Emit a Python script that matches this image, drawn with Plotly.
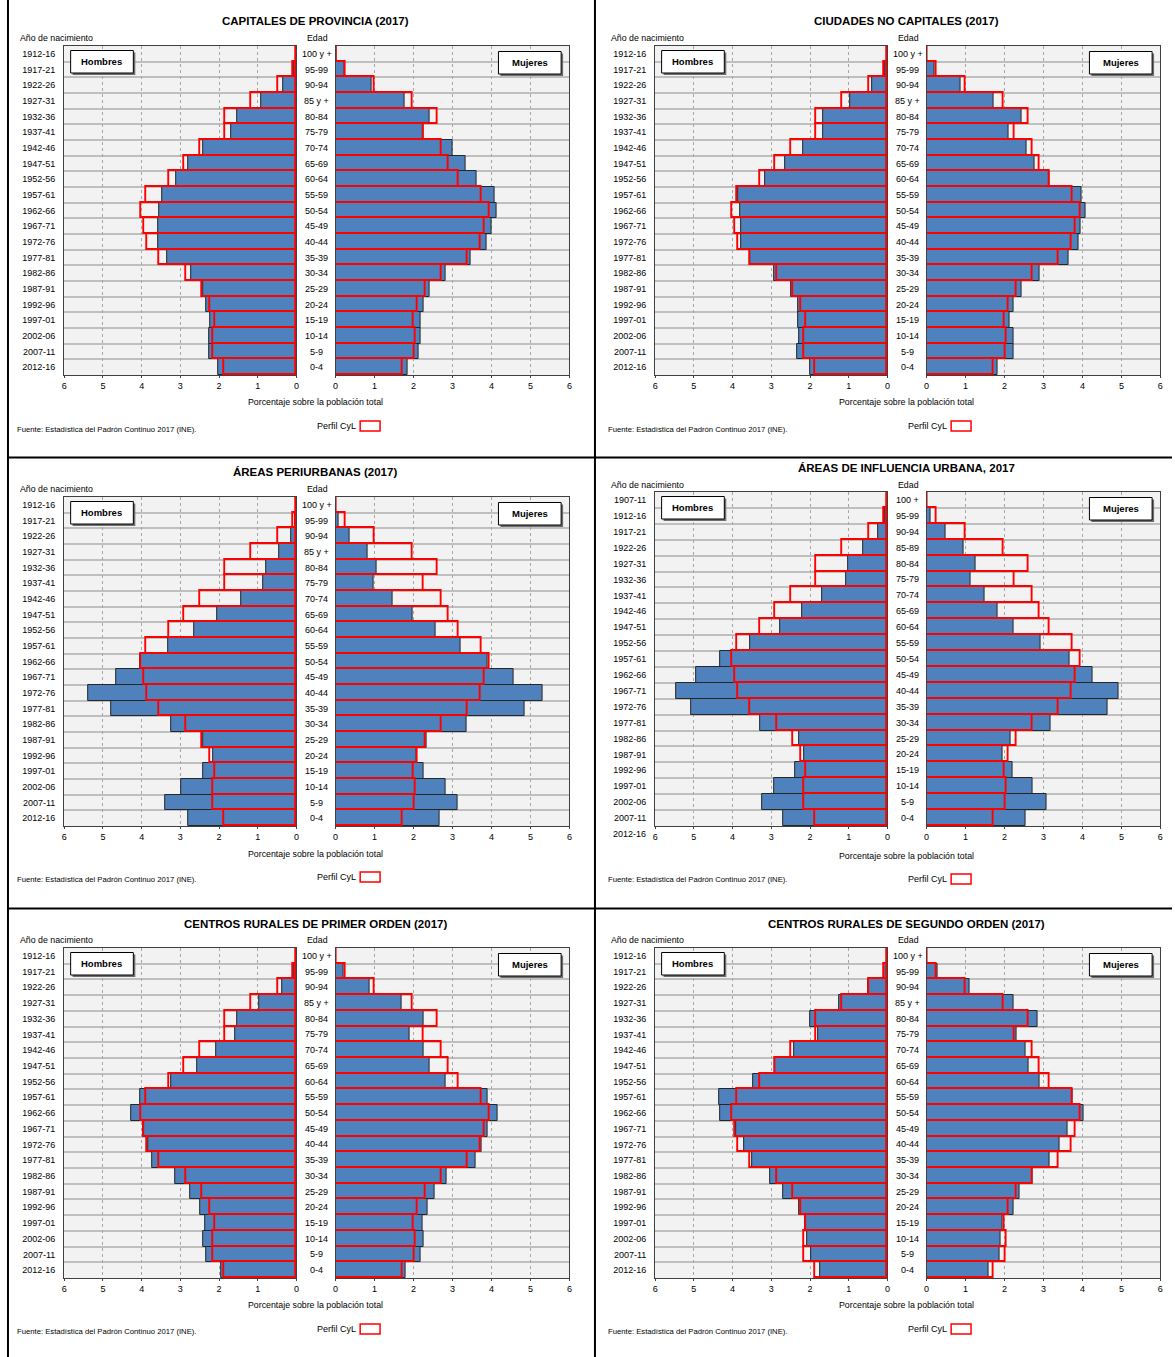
import plotly.graph_objects as go

FIG_W, FIG_H = 1175, 1357
FONT = "Liberation Sans, Arial, sans-serif"
BLUE = "#4F81BD"
RED = "#FF0000"

# ---------------------------------------------------------------- categories
cohortes = ["1912-16", "1917-21", "1922-26", "1927-31", "1932-36", "1937-41",
            "1942-46", "1947-51", "1952-56", "1957-61", "1962-66", "1967-71",
            "1972-76", "1977-81", "1982-86", "1987-91", "1992-96", "1997-01",
            "2002-06", "2007-11", "2012-16"]
cohortes_aiu = ["1907-11", "1912-16", "1917-21", "1922-26", "1927-31", "1932-36",
                "1937-41", "1942-46", "1947-51", "1952-56", "1957-61", "1962-66",
                "1967-71", "1972-76", "1977-81", "1982-86", "1987-91", "1992-96",
                "1997-01", "2002-06", "2007-11", "2012-16"]
edades = ["100 y +", "95-99", "90-94", "85 y +", "80-84", "75-79", "70-74",
          "65-69", "60-64", "55-59", "50-54", "45-49", "40-44", "35-39",
          "30-34", "25-29", "20-24", "15-19", "10-14", "5-9", "0-4"]
edades_aiu = ["100 +", "95-99", "90-94", "85-89", "80-84", "75-79", "70-74",
              "65-69", "60-64", "55-59", "50-54", "45-49", "40-44", "35-39",
              "30-34", "25-29", "20-24", "15-19", "10-14", "5-9", "0-4"]

# ------------------------------------- % of total population, oldest group first
cyl_hombres = [0.02, 0.08, 0.47, 1.16, 1.85, 1.85, 2.48, 2.89, 3.30, 3.88, 4.01,
               3.93, 3.85, 3.54, 2.85, 2.44, 2.23, 2.11, 2.16, 2.16, 1.86]
cyl_mujeres = [0.03, 0.26, 1.01, 1.97, 2.61, 2.27, 2.73, 2.91, 3.15, 3.74, 3.96,
               3.83, 3.72, 3.39, 2.73, 2.31, 2.11, 1.99, 2.05, 2.04, 1.73]

capitales_hombres = [0.02, 0.06, 0.35, 0.91, 1.52, 1.68, 2.40, 2.79, 3.10, 3.47, 3.55,
                     3.57, 3.57, 3.33, 2.71, 2.40, 2.32, 2.24, 2.26, 2.26, 2.01]
capitales_mujeres = [0.02, 0.24, 0.92, 1.76, 2.40, 2.26, 2.99, 3.34, 3.63, 4.09, 4.14,
                     4.01, 3.88, 3.47, 2.82, 2.40, 2.25, 2.17, 2.17, 2.14, 1.86]

ciudades_hombres = [0.02, 0.05, 0.39, 0.96, 1.65, 1.65, 2.19, 2.63, 3.17, 3.85, 3.80,
                    3.78, 3.79, 3.55, 2.92, 2.49, 2.30, 2.31, 2.29, 2.32, 2.00]
ciudades_mujeres = [0.01, 0.21, 0.87, 1.72, 2.44, 2.11, 2.56, 2.77, 3.16, 3.99, 4.09,
                    3.96, 3.90, 3.65, 2.91, 2.45, 2.24, 2.14, 2.23, 2.23, 1.83]

periurbanas_hombres = [0.01, 0.03, 0.14, 0.44, 0.78, 0.86, 1.44, 2.04, 2.65, 3.32, 4.04,
                       4.66, 5.38, 4.78, 3.23, 2.41, 2.14, 2.41, 2.97, 3.40, 2.80]
periurbanas_mujeres = [0.01, 0.08, 0.37, 0.82, 1.05, 0.97, 1.46, 1.98, 2.56, 3.22, 3.91,
                       4.58, 5.31, 4.85, 3.35, 2.33, 2.07, 2.26, 2.81, 3.14, 2.67]

influencia_hombres = [0.01, 0.06, 0.25, 0.62, 1.01, 1.07, 1.68, 2.21, 2.78, 3.55, 4.33,
                      4.93, 5.46, 5.06, 3.30, 2.27, 2.14, 2.38, 2.92, 3.24, 2.70]
influencia_mujeres = [0.01, 0.11, 0.49, 0.95, 1.25, 1.13, 1.49, 1.82, 2.23, 2.92, 3.68,
                      4.27, 4.93, 4.65, 3.17, 2.15, 1.95, 2.21, 2.71, 3.07, 2.53]

rurales1_hombres = [0.01, 0.05, 0.37, 0.97, 1.52, 1.58, 2.07, 2.56, 3.24, 4.04, 4.26,
                    3.95, 3.84, 3.72, 3.14, 2.75, 2.48, 2.37, 2.41, 2.33, 1.95]
rurales1_mujeres = [0.01, 0.20, 0.86, 1.69, 2.27, 1.90, 2.27, 2.40, 2.83, 3.89, 4.17,
                    3.89, 3.74, 3.58, 2.86, 2.55, 2.35, 2.22, 2.27, 2.18, 1.79]

rurales2_hombres = [0.01, 0.09, 0.51, 1.25, 2.00, 1.80, 2.42, 2.90, 3.48, 4.34, 4.33,
                    3.92, 3.71, 3.49, 3.03, 2.69, 2.29, 2.12, 2.07, 1.98, 1.73]
rurales2_mujeres = [0.01, 0.27, 1.10, 2.23, 2.84, 2.32, 2.53, 2.61, 2.89, 3.75, 4.02,
                    3.61, 3.42, 3.15, 2.72, 2.39, 2.23, 1.96, 1.89, 1.88, 1.58]

x_ticks = [0, 1, 2, 3, 4, 5, 6]

# ------------------------------------------------------------- panel layout (px)
panels = [
    dict(title="CAPITALES DE PROVINCIA (2017)", men=capitales_hombres, women=capitales_mujeres,
         cohorts=cohortes, ages=edades, dx=0, top=46, bottom=375,
         title_y=21, head_y=38, xtitle_y=402, src_y=429, leg_y=426),
    dict(title="CIUDADES NO CAPITALES (2017)", men=ciudades_hombres, women=ciudades_mujeres,
         cohorts=cohortes, ages=edades, dx=594, top=46, bottom=375,
         title_y=21, head_y=38, xtitle_y=402, src_y=429, leg_y=426),
    dict(title="ÁREAS PERIURBANAS (2017)", men=periurbanas_hombres, women=periurbanas_mujeres,
         cohorts=cohortes, ages=edades, dx=0, top=497, bottom=826,
         title_y=472, head_y=489, xtitle_y=854, src_y=880, leg_y=877),
    dict(title="ÁREAS DE INFLUENCIA URBANA, 2017", men=influencia_hombres, women=influencia_mujeres,
         cohorts=cohortes_aiu, ages=edades_aiu, dx=594, top=492, bottom=826,
         title_y=468, head_y=485, xtitle_y=856, src_y=880, leg_y=879),
    dict(title="CENTROS RURALES DE PRIMER ORDEN (2017)", men=rurales1_hombres, women=rurales1_mujeres,
         cohorts=cohortes, ages=edades, dx=0, top=948, bottom=1278,
         title_y=924, head_y=940, xtitle_y=1305, src_y=1331, leg_y=1329),
    dict(title="CENTROS RURALES DE SEGUNDO ORDEN (2017)", men=rurales2_hombres, women=rurales2_mujeres,
         cohorts=cohortes, ages=edades, dx=594, top=948, bottom=1278,
         title_y=924, head_y=940, xtitle_y=1305, src_y=1331, leg_y=1329),
]


def fx(px):
    return px / FIG_W


def fy(py):
    return 1 - py / FIG_H


def txt(text, x, y, size, xanchor="left", bold=False, **kw):
    return dict(text=f"<b>{text}</b>" if bold else text, x=x, y=y, xref="paper", yref="paper",
                xanchor=xanchor, yanchor="middle", showarrow=False,
                font=dict(size=size, family=FONT, color="black"), **kw)


def label_box(x0, y0, x1, y1, text):
    shp = [
        dict(type="rect", xref="paper", yref="paper", x0=fx(x0 + 2), x1=fx(x1 + 2),
             y0=fy(y1 + 2), y1=fy(y0 + 2), fillcolor="#6E6E6E", line=dict(width=0), layer="above"),
        dict(type="rect", xref="paper", yref="paper", x0=fx(x0), x1=fx(x1),
             y0=fy(y1), y1=fy(y0), fillcolor="white", line=dict(color="black", width=1), layer="above"),
    ]
    ann = txt(text, fx((x0 + x1) / 2), fy((y0 + y1) / 2), 9.5, xanchor="center", bold=True)
    return shp, ann


fig = go.Figure()
shapes, annotations, axes = [], [], {}

for i, p in enumerate(panels):
    dx, top, bottom = p["dx"], p["top"], p["bottom"]
    n = len(p["men"])
    pos = list(range(n - 1, -1, -1))
    row_h = (bottom - top) / n
    sides = [
        (2 * i + 1, p["men"], cyl_hombres, [6, 0], (61.5 + dx, 295 + dx), True),
        (2 * i + 2, p["women"], cyl_mujeres, [0, 6], (334.3 + dx, 569.3 + dx), False),
    ]
    for k, vals, cyl, xr, (xl, xrpx), is_men in sides:
        xa = "x" if k == 1 else f"x{k}"
        ya = "y" if k == 1 else f"y{k}"
        fig.add_trace(go.Bar(x=vals, y=pos, orientation="h", width=1, xaxis=xa, yaxis=ya,
                             marker=dict(color=BLUE, line=dict(color="#262626", width=1)),
                             showlegend=False, hoverinfo="skip"))
        fig.add_trace(go.Bar(x=cyl, y=pos, orientation="h", width=1, xaxis=xa, yaxis=ya,
                             marker=dict(color="rgba(0,0,0,0)", line=dict(color=RED, width=1.9)),
                             showlegend=False, hoverinfo="skip"))
        axes["xaxis" if k == 1 else f"xaxis{k}"] = dict(
            domain=[fx(xl), fx(xrpx)], anchor=ya, range=xr, tickmode="array", tickvals=x_ticks,
            showgrid=True, gridcolor="#A6A6A6", griddash="dot", gridwidth=1, zeroline=False,
            showline=True, mirror=True, linecolor="#404040", linewidth=1,
            ticks="outside", ticklen=2, tickcolor="#404040",
            tickfont=dict(size=9, family=FONT, color="black"), fixedrange=True)
        axes["yaxis" if k == 1 else f"yaxis{k}"] = dict(
            domain=[fy(bottom), fy(top)], anchor=xa, range=[-0.5, n - 0.5],
            tickmode="array", tickvals=pos, ticktext=p["cohorts"][:n] if is_men else None,
            showticklabels=is_men, ticks="", ticklabelstandoff=6,
            showgrid=False,
            minor=dict(tickmode="linear", tick0=0.5, dtick=1, showgrid=True,
                       gridcolor="#BFBFBF", gridwidth=1.5),
            zeroline=False, showline=True, mirror=True, linecolor="#404040", linewidth=1,
            tickfont=dict(size=9, family=FONT, color="black"), fixedrange=True)
        if is_men:
            # cohort labels that run past the last row continue the same row spacing
            for j, lab in enumerate(p["cohorts"][n:]):
                annotations.append(txt(lab, fx(54 + dx), fy(bottom + (j + 0.5) * row_h), 9,
                                       xanchor="right"))
        else:
            for y, lab in zip(pos, p["ages"]):
                annotations.append(dict(text=lab, x=fx(315.5 + dx), y=y, xref="paper", yref=ya,
                                        xanchor="center", yanchor="middle", showarrow=False,
                                        font=dict(size=9, family=FONT, color="black")))

    # panel texts
    annotations.append(txt(p["title"], fx(314 + dx), fy(p["title_y"]), 11.5, xanchor="center", bold=True))
    annotations.append(txt("Año de nacimiento", fx(15 + dx), fy(p["head_y"]), 8.8))
    annotations.append(txt("Edad", fx(304 + dx), fy(p["head_y"]), 8.8))
    annotations.append(txt("Porcentaje sobre la población total", fx(314 + dx), fy(p["xtitle_y"]),
                           8.8, xanchor="center"))
    annotations.append(txt("Fuente: Estadística del Padrón Continuo 2017 (INE).", fx(12 + dx),
                           fy(p["src_y"]), 7.7))
    annotations.append(txt("Perfil CyL", fx(357 + dx), fy(p["leg_y"]), 9, xanchor="right"))
    shapes.append(dict(type="rect", xref="paper", yref="paper", x0=fx(359 + dx), x1=fx(379 + dx),
                       y0=fy(p["leg_y"] + 5), y1=fy(p["leg_y"] - 5), fillcolor="white",
                       line=dict(color=RED, width=1.5)))

    s, a = label_box(68 + dx, top + 4.5, 131 + dx, top + 27, "Hombres")
    shapes += s
    annotations.append(a)
    s, a = label_box(498 + dx, top + 5.5, 561 + dx, top + 28, "Mujeres")
    shapes += s
    annotations.append(a)

# frame separating the six panels
for line in (dict(x0=fx(595), x1=fx(595), y0=0, y1=1),
             dict(x0=fx(5), x1=fx(5), y0=0, y1=1),
             dict(x0=fx(5), x1=1, y0=fy(457.5), y1=fy(457.5)),
             dict(x0=fx(5), x1=1, y0=fy(908.5), y1=fy(908.5))):
    shapes.append(dict(type="line", xref="paper", yref="paper",
                       line=dict(color="black", width=2), **line))

fig.update_layout(
    width=FIG_W, height=FIG_H, margin=dict(l=0, r=0, t=0, b=0),
    paper_bgcolor="white", plot_bgcolor="#F2F2F2",
    barmode="overlay", bargap=0, showlegend=False,
    font=dict(family=FONT, color="black"),
    shapes=shapes, annotations=annotations, **axes)

fig.write_html("out.html", config={"displayModeBar": False},
               post_script="document.body.style.margin='0px';")
